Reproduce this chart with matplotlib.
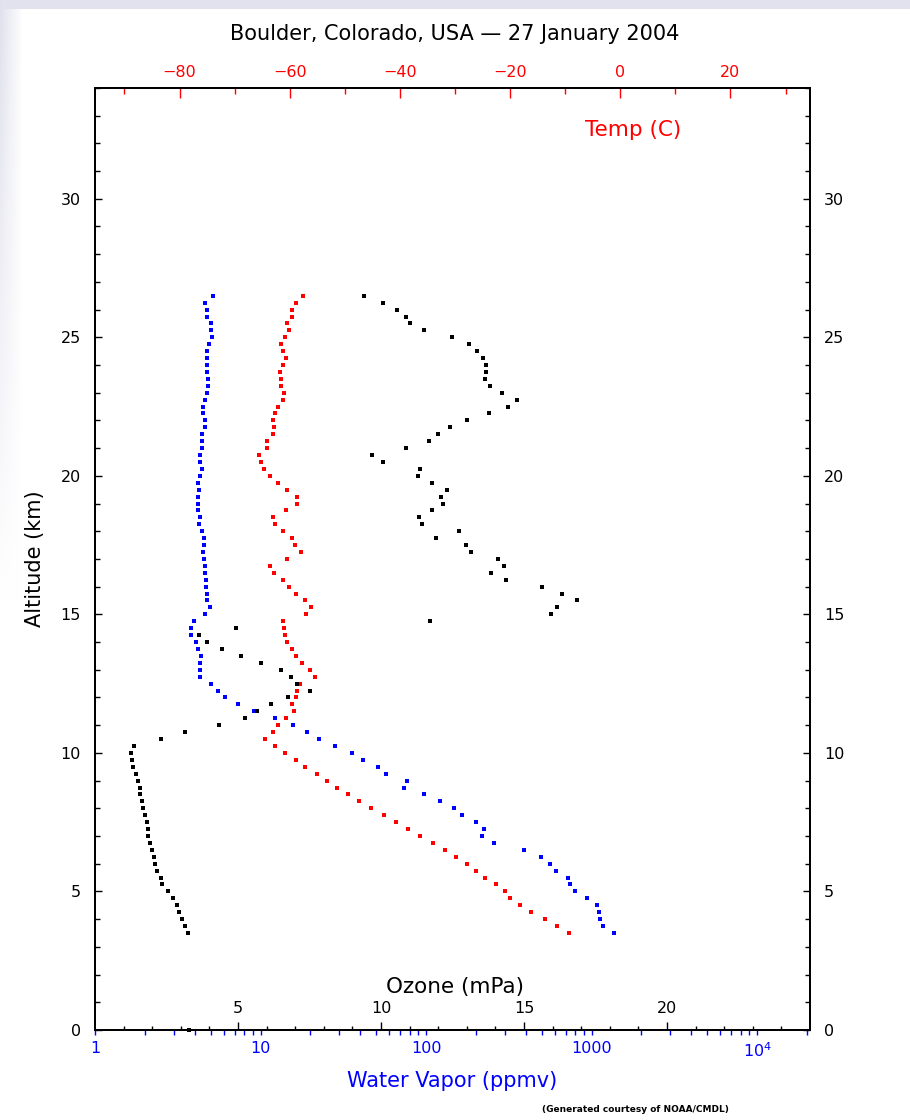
import numpy as np
import matplotlib
matplotlib.use('Agg')
from matplotlib import pyplot as plt
from matplotlib.ticker import MultipleLocator, NullFormatter, FixedLocator

# sonde levels, top down (km)
alt = [26.5, 26.25, 26.0, 25.75, 25.5, 25.25, 25.0, 24.75, 24.5, 24.25,
       24.0, 23.75, 23.5, 23.25, 23.0, 22.75, 22.5, 22.25, 22.0, 21.75,
       21.5, 21.25, 21.0, 20.75, 20.5, 20.25, 20.0, 19.75, 19.5, 19.25,
       19.0, 18.75, 18.5, 18.25, 18.0, 17.75, 17.5, 17.25, 17.0, 16.75,
       16.5, 16.25, 16.0, 15.75, 15.5, 15.25, 15.0, 14.75, 14.5, 14.25,
       14.0, 13.75, 13.5, 13.25, 13.0, 12.75, 12.5, 12.25, 12.0, 11.75,
       11.5, 11.25, 11.0, 10.75, 10.5, 10.25, 10.0, 9.75, 9.5, 9.25,
       9.0, 8.75, 8.5, 8.25, 8.0, 7.75, 7.5, 7.25, 7.0, 6.75,
       6.5, 6.25, 6.0, 5.75, 5.5, 5.25, 5.0, 4.75, 4.5, 4.25,
       4.0, 3.75, 3.5]

# ozone partial pressure (mPa)
ozone = [9.41, 10.08, 10.57, 10.88, 11.00, 11.49, 12.47, 13.08, 13.34, 13.56,
         13.68, 13.68, 13.63, 13.82, 14.24, 14.74, 14.44, 13.76, 13.02, 12.42,
         11.98, 11.67, 10.88, 9.68, 10.08, 11.37, 11.30, 11.80, 12.31, 12.10,
         12.17, 11.80, 11.33, 11.43, 12.72, 11.93, 12.96, 13.15, 14.10, 14.31,
         13.84, 14.37, 15.62, 16.32, 16.85, 16.14, 15.96, 11.73, 4.94, 3.62,
         3.91, 4.45, 5.12, 5.79, 6.49, 6.86, 7.07, 7.52, 6.76, 6.16,
         5.66, 5.24, 4.32, 3.16, 2.32, 1.38, 1.25, 1.30, 1.32, 1.45,
         1.50, 1.56, 1.57, 1.63, 1.68, 1.74, 1.81, 1.87, 1.87, 1.93,
         2.00, 2.06, 2.11, 2.17, 2.30, 2.36, 2.54, 2.73, 2.86, 2.93,
         3.04, 3.14, 3.25]

# temperature (C)
temp = [-57.6, -58.9, -59.5, -59.6, -60.5, -60.2, -60.8, -61.5, -61.2, -60.7,
        -61.3, -61.8, -61.5, -61.5, -61.0, -61.3, -62.1, -62.6, -63.0, -62.8,
        -63.1, -64.1, -64.1, -65.6, -65.3, -64.7, -63.5, -62.2, -60.5, -58.6,
        -58.6, -60.7, -63.1, -62.7, -61.2, -59.6, -59.1, -58.0, -60.5, -63.5,
        -62.8, -61.2, -60.1, -58.9, -57.3, -56.1, -57.0, -61.2, -61.0, -60.9,
        -60.5, -59.6, -58.8, -57.8, -56.4, -55.4, -58.1, -58.6, -58.8, -59.6,
        -59.2, -60.7, -62.1, -63.1, -64.5, -62.7, -60.8, -58.9, -57.2, -55.0,
        -53.2, -51.5, -49.4, -47.4, -45.2, -42.9, -40.7, -38.5, -36.3, -34.0,
        -31.9, -29.9, -27.9, -26.1, -24.5, -22.6, -20.9, -20.0, -18.2, -16.2,
        -13.7, -11.4, -9.3]

# water vapor (ppmv)
wv = [5.13, 4.63, 4.72, 4.74, 4.99, 4.99, 5.06, 4.90, 4.72, 4.74,
      4.74, 4.74, 4.81, 4.85, 4.74, 4.63, 4.52, 4.52, 4.63, 4.63,
      4.46, 4.42, 4.42, 4.32, 4.32, 4.46, 4.30, 4.22, 4.26, 4.20,
      4.20, 4.20, 4.28, 4.26, 4.46, 4.55, 4.55, 4.52, 4.57, 4.61,
      4.59, 4.68, 4.68, 4.74, 4.74, 4.97, 4.63, 3.99, 3.81, 3.81,
      4.10, 4.18, 4.36, 4.32, 4.30, 4.30, 4.99, 5.50, 6.06, 7.36,
      9.08, 12.3, 15.8, 19.2, 22.7, 28.3, 35.7, 41.9, 51.1, 57.1,
      76.6, 73.8, 97.0, 121, 147, 164, 201, 223, 217, 257,
      391, 498, 561, 614, 718, 738, 795, 944, 1076, 1117,
      1132, 1181, 1358]

# surface ozone point on the axis
sfc_alt = [0.0]
sfc_ozone = [3.3]

wv_ticks = [1, 10, 100, 1000, 10000]
wv_labels = ['1', '10', '100', '1000', '$10^4$']
temp_ticks = [-80, -60, -40, -20, 0, 20]
ozone_ticks = [5, 10, 15, 20]

fig = plt.figure(figsize=(9.1, 11.2), dpi=100)

# faint grey page edge, top left
bg = fig.add_axes([0, 0, 1, 1], zorder=-10)
yy, xx = np.mgrid[0:1120, 0:910]
shade = np.maximum((yy < 9) * 0.11,
                   np.clip(1 - xx / 22, 0, 1) * np.clip(1 - yy / 600, 0, 1) * 0.12)
img = np.ones((1120, 910, 3))
img[..., 0] -= shade
img[..., 1] -= shade
img[..., 2] -= shade * 0.6
bg.imshow(img, aspect='auto', interpolation='bilinear')
bg.axis('off')

box = [0.1044, 0.0804, 0.7857, 0.8411]
ax = fig.add_axes(box)
axt = ax.twiny()
axw = ax.twiny()
ax.set_zorder(3)
axw.set_zorder(2)
axt.set_zorder(1)
for a in (ax, axt, axw):
    a.patch.set_visible(False)
    for s in a.spines.values():
        s.set_linewidth(1.3)

# temperature, top axis
axt.plot(temp, alt, 's', color='red', ms=3, mew=0)
axt.set_xlim(-95.34, 34.43)
axt.set_xticks(temp_ticks)
axt.xaxis.set_minor_locator(MultipleLocator(10))
axt.tick_params(axis='x', which='major', direction='in', length=7, width=1,
                colors='red', labelsize=11.5, pad=5.5)
axt.tick_params(axis='x', which='minor', direction='in', length=4, width=1, colors='red')
axt.spines['top'].set_color('black')

# water vapor, bottom log axis
axw.plot(wv, alt, 's', color='blue', ms=3, mew=0)
axw.set_xscale('log')
axw.set_xlim(1, 10 ** 4.32)
axw.xaxis.set_ticks_position('bottom')
axw.xaxis.set_label_position('bottom')
axw.set_xticks(wv_ticks, labels=wv_labels)
axw.xaxis.set_minor_formatter(NullFormatter())
axw.tick_params(axis='x', which='both', direction='out', length=3.5, width=1,
                colors='blue', labelsize=11.5, pad=4.5)
axw.spines['bottom'].set_color('black')
axw.set_xlabel('Water Vapor (ppmv)', color='blue', fontsize=15, labelpad=8)

# ozone, main axis
ax.plot(ozone, alt, 's', color='black', ms=3, mew=0)
ax.plot(sfc_ozone, sfc_alt, 's', color='black', ms=3, mew=0, clip_on=False)
ax.set_xlim(0, 25)
ax.set_ylim(0, 34)
ax.set_xticks(ozone_ticks)
ax.xaxis.set_minor_locator(FixedLocator([v for v in range(1, 25) if v % 5]))
ax.tick_params(axis='x', which='major', direction='in', length=5.5, width=1,
               top=False, labelsize=11.5, pad=-20.5)
ax.tick_params(axis='x', which='minor', direction='in', length=3, width=1, top=False)
ax.yaxis.set_major_locator(MultipleLocator(5))
ax.yaxis.set_minor_locator(MultipleLocator(1))
ax.tick_params(axis='y', which='major', direction='in', length=5, width=1,
               left=True, right=True, labelleft=True, labelright=True,
               labelsize=11.5, pad=10)
ax.tick_params(axis='y', which='minor', direction='in', length=3.5, width=1,
               left=True, right=True)
ax.set_ylabel('Altitude (km)', fontsize=15, labelpad=11)
ax.text(0.503, 0.046, 'Ozone (mPa)', transform=ax.transAxes, fontsize=15.5,
        ha='center', va='center')
ax.text(0.752, 0.955, 'Temp (C)', transform=ax.transAxes, fontsize=15.5,
        color='red', ha='center', va='center')

fig.text(0.5, 0.970, 'Boulder, Colorado, USA \u2014 27 January 2004',
         fontsize=15, ha='center', va='center')
fig.text(0.698, 0.009, '(Generated courtesy of NOAA/CMDL)', fontsize=6.5,
         weight='bold', ha='center', va='center')

fig.savefig('out.png', dpi=100)
